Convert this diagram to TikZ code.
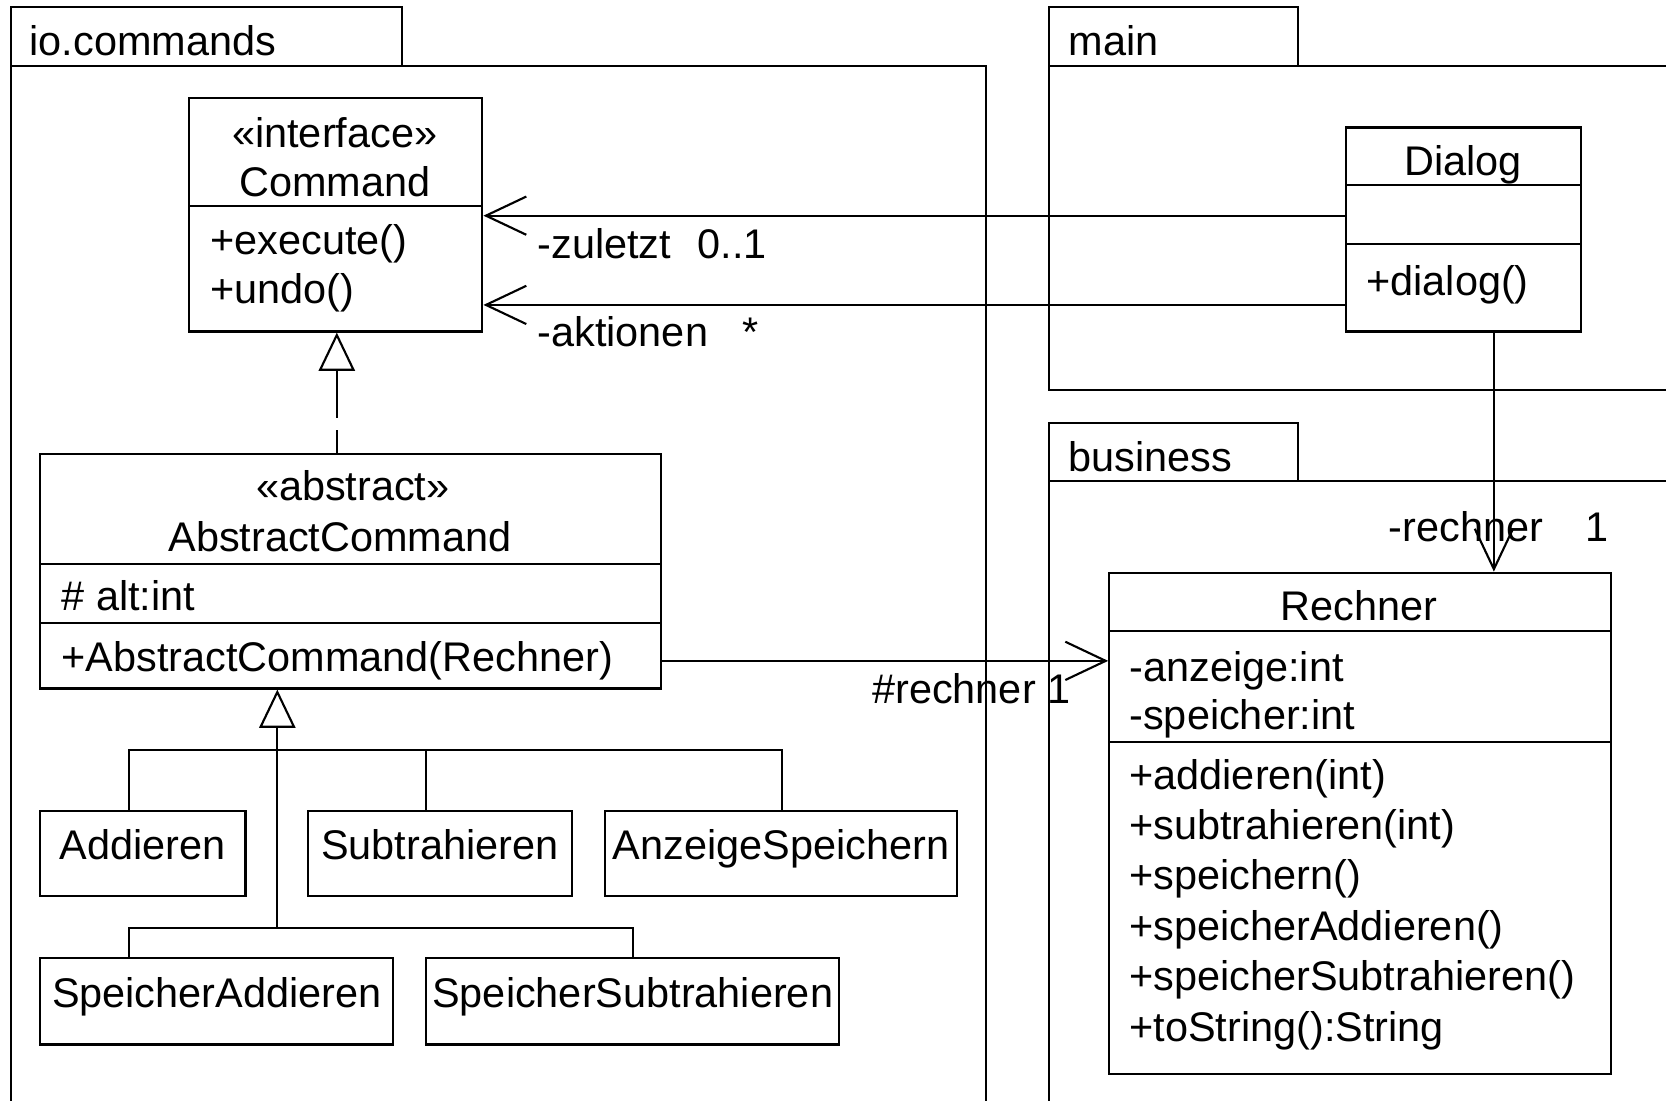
\documentclass[tikz,border=0pt]{standalone}
\usepackage{fontspec}
\setmainfont{Liberation Sans}
\usetikzlibrary{arrows.meta}
\begin{document}
\begin{tikzpicture}[x=0.5pt,y=-0.5pt, line width=1pt,
  every node/.style={font=\fontsize{19.5}{23}\selectfont, inner sep=0pt},
  cls/.style={draw, anchor=north west, inner sep=0pt},
  smallbox/.style={draw, anchor=north west, minimum height=40pt, text height=14pt, text depth=8pt},
  txt/.style={anchor=base west},
  ctxt/.style={anchor=base},
  assoc/.style={-{Straight Barb[length=19pt,width=18pt]}},
  real/.style={dash pattern=on 23pt off 6pt, dash phase=12.5pt, -{Triangle[open,length=18pt,width=17pt]}},
  gen/.style={-{Triangle[open,length=18pt,width=17pt]}}]
\useasboundingbox (0,0) rectangle (1568,1036);
\fill[white] (0,0) rectangle (1568,1036);

% packages
\draw (10,1045) -- (10,7) -- (378,7) -- (378,62);
\draw (10,62) -- (928,62) -- (928,1045);
\draw (987,62) -- (987,7) -- (1222,7) -- (1222,62);
\draw (1575,62) -- (987,62) -- (987,367) -- (1575,367);
\draw (987,1045) -- (987,398) -- (1222,398) -- (1222,453);
\draw (987,453) -- (1575,453);
\node[txt] (pio) at (27,52) {io.commands};
\node[txt] (pmain) at (1005,52) {main};
\node[txt] (pbus) at (1005,444) {business};

% Command
\node[cls, minimum width=138pt, minimum height=110pt] (cmd) at (177,91) {};
\draw (177,194) -- (453,194);
\node[ctxt] (cmdst) at (315,139) {«interface»};
\node[ctxt] (cmdn) at (315,185) {Command};
\node[txt] (cmd1) at (197,240) {+execute()};
\node[txt] (cmd2) at (197,286) {+undo()};

% Dialog
\node[cls, minimum width=110.5pt, minimum height=96pt] (dlg) at (1266,119) {};
\draw (1266,174) -- (1487,174);
\draw (1266,230) -- (1487,230);
\node[ctxt] (dlgn) at (1377,165) {Dialog};
\node[txt] (dlg1) at (1285,278) {+dialog()};

% AbstractCommand
\node[cls, minimum width=292pt, minimum height=110.5pt] (abs) at (37,426) {};
\draw (37,531) -- (621,531);
\draw (37,586) -- (621,586);
\node[ctxt] (absst) at (332,471) {«abstract»};
\node[ctxt] (absn) at (320,519) {AbstractCommand};
\node[txt] (abs1) at (57,575) {\# alt:int};
\node[txt] (abs2) at (57,632) {+AbstractCommand(Rechner)};

% Rechner
\node[cls, minimum width=236pt, minimum height=236pt] (rech) at (1043,538) {};
\draw (1043,594) -- (1515,594);
\draw (1043,698) -- (1515,698);
\node[ctxt] (rechn) at (1279,584) {Rechner};
\node[txt] (r1) at (1062,641) {-anzeige:int};
\node[txt] (r2) at (1062,687) {-speicher:int};
\node[txt] (r3) at (1062,743) {+addieren(int)};
\node[txt] (r4) at (1062,790) {+subtrahieren(int)};
\node[txt] (r5) at (1062,837) {+speichern()};
\node[txt] (r6) at (1062,885) {+speicherAddieren()};
\node[txt] (r7) at (1062,932) {+speicherSubtrahieren()};
\node[txt] (r8) at (1062,980) {+toString():String};

% subclasses
\node[smallbox, minimum width=96.5pt] (add) at (37,762) {Addieren};
\node[smallbox, minimum width=124pt] (sub) at (289,762) {Subtrahieren};
\node[smallbox, minimum width=166pt] (anz) at (568,762) {AnzeigeSpeichern};
\node[smallbox, minimum width=166pt, minimum height=40.5pt] (sadd) at (37,901) {SpeicherAddieren};
\node[smallbox, minimum width=194.5pt, minimum height=40.5pt] (ssub) at (400,901) {SpeicherSubtrahieren};

% helper coordinates
\coordinate (ya) at (0,203);
\coordinate (yb) at (0,287);
\coordinate (xr) at (1406,0);
\coordinate (yc) at (0,622);
\coordinate (xi) at (317,0);
\coordinate (g) at (261,873);
\coordinate (b1) at (0,706);
\coordinate (xa) at (121,0);
\coordinate (xs) at (401,0);
\coordinate (xz) at (736,0);
\coordinate (xq) at (596,0);

% associations
\draw[assoc] (dlg.west |- ya) -- (cmd.east |- ya);
\draw[assoc] (dlg.west |- yb) -- (cmd.east |- yb);
\draw[assoc] (dlg.south -| xr) -- (rech.north -| xr);
\draw[assoc] (abs.east |- yc) -- (rech.west |- yc);
\node[txt] (lz) at (505,243) {-zuletzt\hspace{12.5pt}0..1};
\node[txt] (la) at (505,326) {-aktionen\hspace{16pt}*};
\node[txt] (lr) at (1306,510) {-rechner\hspace{20pt}1};
\node[txt] (lh) at (820,662) {\#rechner 1};

% realization
\draw[real] (abs.north -| xi) -- (cmd.south -| xi);

% generalization
\draw[gen] (g) -- (abs.south -| g);
\draw (add.north -| xa) -- (xa |- b1) -- (xz |- b1) -- (anz.north -| xz);
\draw (sub.north -| xs) -- (xs |- b1);
\draw (sadd.north -| xa) |- (g) -| (ssub.north -| xq);
\end{tikzpicture}
\end{document}
